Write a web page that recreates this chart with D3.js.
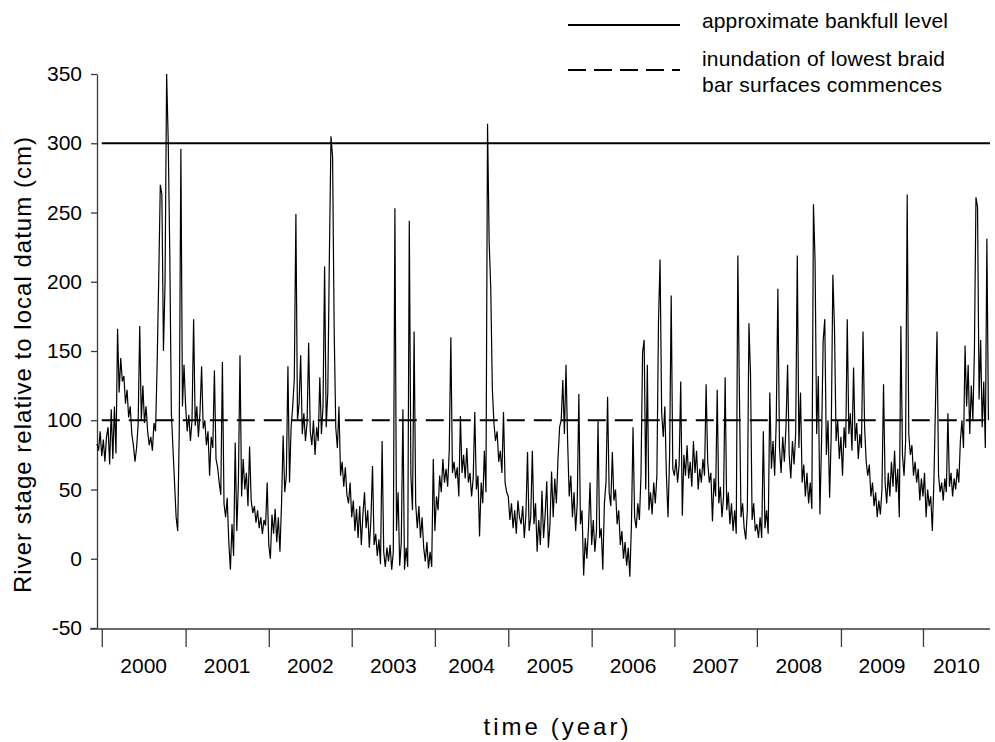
<!DOCTYPE html>
<html>
<head>
<meta charset="utf-8">
<script src="https://cdn.jsdelivr.net/npm/d3@7"></script>
<style>
  body { margin: 0; background: #fff; }
  text { font-family: "Liberation Sans", Arial, sans-serif; fill: #000; }
</style>
</head>
<body>
<svg width="995" height="742"></svg>
<script>
// Year labels and the day (counted from start of record) where each year tick sits
const yearLabels = ["2000", "2001", "2002", "2003", "2004", "2005", "2006", "2007", "2008", "2009", "2010"];
const tickDays = [21, 390, 756, 1121, 1487, 1810, 2177, 2541, 2904, 3274, 3635];
const lastDay = 3930;
const yTicks = [-50, 0, 50, 100, 150, 200, 250, 300, 350];

// Reference levels (cm)
const bankfullLevel = 300;
const braidBarLevel = 100;

// River stage (cm), about weekly readings, one array per year
const stage2000 = [83, 78, 92, 74, 86, 70, 88, 95, 68, 108, 72, 110, 76, 166, 120, 145, 128, 132, 112, 122,
  102, 110, 90, 82, 70, 80, 97, 168, 100, 125, 98, 110, 92, 82, 88, 78, 98, 92, 140, 202,
  270, 263, 150, 200, 350, 302, 219, 105, 80, 55, 30, 20, 95, 296, 110, 140];
const stage2001 = [110, 92, 104, 85, 100, 173, 96, 110, 88, 106, 139, 94, 100, 82, 92, 60, 88, 80, 136, 72,
  66, 55, 46, 142, 40, 30, 44, 12, -8, 25, 2, 84, 20, 55, 147, 45, 72, 50, 62, 38,
  81, 42, 33, 38, 26, 35, 22, 30, 18, 28, 24, 55];
const stage2002 = [10, 0, 32, 18, 36, 12, 30, 5, 40, 89, 48, 60, 139, 55, 95, 110, 130, 249, 100, 112,
  147, 90, 105, 85, 98, 156, 92, 82, 100, 75, 95, 85, 131, 90, 110, 211, 95, 120, 219, 305,
  290, 165, 95, 80, 110, 60, 70, 52, 66, 46, 40, 55];
const stage2003 = [30, 42, 20, 36, 15, 38, 10, 32, 48, 22, 35, 8, 28, 67, 10, 18, 2, 14, -4, 85,
  5, -6, 8, -2, 10, -8, 5, 253, 20, 48, -5, 12, 108, -8, 8, -6, 244, 60, 35, 164,
  40, 22, 38, 15, 30, 8, -2, 12, -7, 5, -6, 72];
const stage2004 = [20, 45, 35, 60, 48, 72, 55, 65, 52, 78, 160, 62, 70, 58, 66, 45, 103, 62, 75, 58,
  80, 55, 62, 45, 58, 106, 50, 60, 16, 55, 40, 78, 48, 314, 229, 196, 123, 98, 85, 92,
  70, 78, 62, 106, 55, 48];
const stage2005 = [45, 28, 40, 22, 35, 18, 42, 30, 25, 38, 15, 32, 77, 20, 30, 78, 25, 40, 5, 28,
  10, 49, 15, 32, 56, 8, 25, 63, 30, 58, 40, 72, 95, 100, 129, 90, 140, 85, 45, 60,
  30, 48, 20, 40, 119, 25, 35, -12, 15, 0, 22, 55];
const stage2006 = [10, 28, 5, 20, 100, 15, 22, -8, 40, 55, 117, 48, 38, 77, 42, 50, 25, 35, 10, 20,
  0, 12, -5, 8, -13, 25, 95, 30, 22, 40, 28, 60, 149, 158, 50, 140, 35, 48, 32, 55,
  40, 60, 171, 216, 105, 88, 110, 60, 30, 75, 190, 65];
const stage2007 = [60, 72, 55, 68, 128, 31, 75, 60, 82, 58, 70, 52, 85, 62, 78, 50, 65, 55, 72, 60,
  126, 70, 55, 62, 27, 58, 45, 122, 40, 52, 30, 45, 131, 35, 48, 25, 40, 20, 35, 18,
  219, 119, 30, 40, 22, 14, 35, 170, 133, 28, 40, 20];
const stage2008 = [25, 15, 30, 15, 92, 22, 35, 18, 120, 65, 85, 60, 100, 195, 80, 62, 88, 70, 95, 140,
  75, 58, 85, 68, 90, 219, 80, 120, 55, 68, 45, 62, 40, 55, 36, 256, 215, 90, 132, 32,
  85, 157, 173, 75, 100, 44, 90, 205, 167, 85, 100, 72];
const stage2009 = [88, 60, 95, 80, 173, 90, 105, 78, 138, 85, 98, 72, 90, 80, 164, 95, 70, 60, 68, 45,
  55, 38, 48, 30, 42, 32, 50, 126, 55, 40, 62, 45, 70, 52, 78, 48, 65, 30, 168, 75,
  60, 85, 263, 90, 75, 82, 60, 70, 55, 65, 42, 58];
const stage2010 = [45, 62, 30, 50, 38, 45, 20, 55, 110, 164, 60, 48, 55, 42, 58, 48, 105, 52, 62, 45,
  58, 50, 65, 55, 85, 100, 80, 154, 110, 140, 90, 125, 100, 150, 261, 254, 115, 158, 95, 128,
  80, 231, 100];

const yearSeries = [stage2000, stage2001, stage2002, stage2003, stage2004, stage2005,
  stage2006, stage2007, stage2008, stage2009, stage2010];

// Spread each year's readings evenly over its own span of days
const segStart = [0].concat(tickDays.slice(1));
const segEnd = tickDays.slice(1).concat([lastDay]);
const series = [];
yearSeries.forEach((arr, k) => {
  const step = (segEnd[k] - segStart[k]) / arr.length;
  arr.forEach((v, i) => series.push({ day: segStart[k] + i * step, stage: v }));
});

const svg = d3.select("svg");
const axisColor = "#3a3a3a";

const x = d3.scaleLinear().domain([0, lastDay]).range([97, 990]);
const y = d3.scaleLinear().domain([-50, 350]).range([628, 74]);

// Y axis (plain hyphen for negatives, as in the original)
const yAxis = svg.append("g")
  .attr("transform", "translate(97,0)")
  .call(d3.axisLeft(y).tickValues(yTicks).tickSize(6).tickSizeOuter(0).tickPadding(9)
    .tickFormat(d => String(d)));
yAxis.selectAll("path, line").attr("stroke", axisColor).attr("stroke-width", 1.3);
yAxis.selectAll("text").style("font-size", "21px").attr("fill", "#000");

// X axis: ticks mark year boundaries, labels sit between them
const xAxis = svg.append("g")
  .attr("transform", "translate(0,629)")
  .call(d3.axisBottom(x).tickValues(tickDays).tickSize(18).tickFormat(""));
xAxis.select(".domain").remove();
xAxis.selectAll("line").attr("stroke", axisColor).attr("stroke-width", 1.3);
xAxis.append("line")
  .attr("x1", x(0) - 7)
  .attr("x2", x(lastDay))
  .attr("stroke", axisColor)
  .attr("stroke-width", 1.3);

svg.append("g")
  .selectAll("text")
  .data(yearLabels)
  .join("text")
  .attr("x", (d, i) => x((tickDays[i] + segEnd[i]) / 2))
  .attr("y", 673)
  .attr("text-anchor", "middle")
  .style("font-size", "21px")
  .text(d => d);

// Axis titles
svg.append("text")
  .attr("transform", "translate(31,365) rotate(-90)")
  .attr("text-anchor", "middle")
  .attr("textLength", 456)
  .attr("lengthAdjust", "spacing")
  .style("font-size", "24px")
  .text("River stage relative to local datum (cm)");

svg.append("text")
  .attr("x", 556)
  .attr("y", 735)
  .attr("text-anchor", "middle")
  .attr("textLength", 145)
  .attr("lengthAdjust", "spacing")
  .style("font-size", "24px")
  .text("time (year)");

// Reference levels
svg.append("line")
  .attr("x1", x(tickDays[0])).attr("x2", x(lastDay))
  .attr("y1", y(bankfullLevel)).attr("y2", y(bankfullLevel))
  .attr("stroke", "#000").attr("stroke-width", 2);

svg.append("line")
  .attr("x1", x(tickDays[0])).attr("x2", x(lastDay))
  .attr("y1", y(braidBarLevel)).attr("y2", y(braidBarLevel))
  .attr("stroke", "#000").attr("stroke-width", 2)
  .attr("stroke-dasharray", "18,9");

// Stage record
svg.append("path")
  .datum(series)
  .attr("fill", "none")
  .attr("stroke", "#000")
  .attr("stroke-width", 1.2)
  .attr("stroke-linejoin", "miter")
  .attr("d", d3.line().x(d => x(d.day)).y(d => y(d.stage)));

// Legend
const legend = svg.append("g");
legend.append("line")
  .attr("x1", 568).attr("x2", 680).attr("y1", 25).attr("y2", 25)
  .attr("stroke", "#000").attr("stroke-width", 2);
legend.append("line")
  .attr("x1", 568).attr("x2", 680).attr("y1", 70).attr("y2", 70)
  .attr("stroke", "#000").attr("stroke-width", 2)
  .attr("stroke-dasharray", "18,8");

const legendText = [
  { t: "approximate bankfull level", y: 28, w: 246 },
  { t: "inundation of lowest braid", y: 66, w: 243 },
  { t: "bar surfaces commences", y: 92, w: 240 }
];
legend.selectAll("text.lg")
  .data(legendText)
  .join("text")
  .attr("class", "lg")
  .attr("x", 702)
  .attr("y", d => d.y)
  .attr("textLength", d => d.w)
  .attr("lengthAdjust", "spacing")
  .style("font-size", "21px")
  .text(d => d.t);
</script>
</body>
</html>
